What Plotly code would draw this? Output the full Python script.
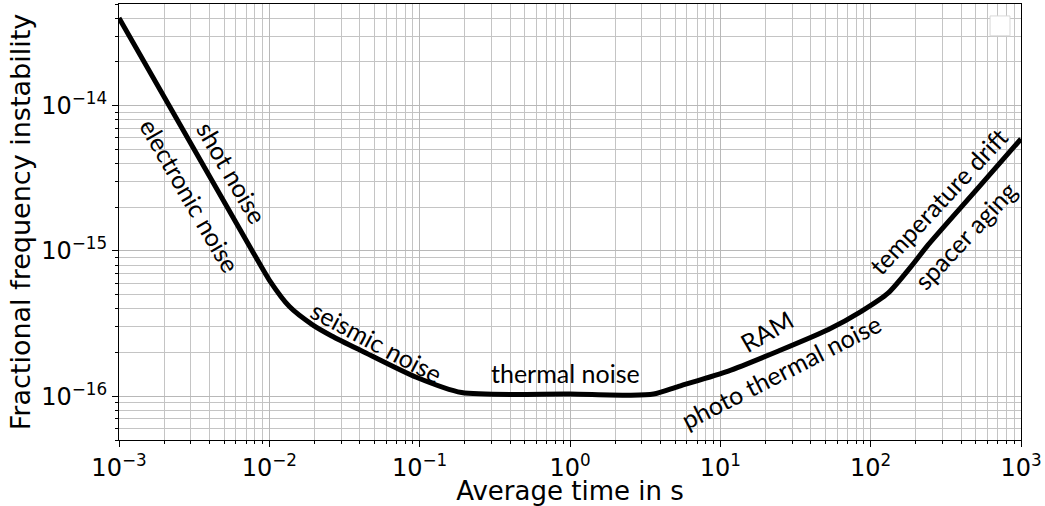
import plotly.graph_objects as go
import math

# Data
tau = [1e-3, 7.7e-3, 1.0e-2, 1.36e-2, 1.94e-2, 2.6e-2, 4.16e-2, 0.095, 0.19, 1.0, 2.5, 3.6,
       5.28, 11.3, 24.4, 52.4, 86.7, 131, 186, 241, 500, 1000]
sigma = [4.0e-14, 1.0e-15, 6.3e-16, 4.14e-16, 3.1e-16, 2.6e-16, 2.04e-16, 1.35e-16, 1.06e-16,
         1.035e-16, 1.015e-16, 1.035e-16, 1.17e-16, 1.49e-16, 2.05e-16, 2.88e-16, 3.84e-16,
         5.14e-16, 7.82e-16, 1.10e-15, 2.6e-15, 5.9e-15]

x_tick_exp = [-3, -2, -1, 0, 1, 2, 3]
y_tick_exp = [-16, -15, -14]

labels = ["shot noise", "electronic noise", "seismic noise", "thermal noise", "RAM",
          "photo thermal noise", "temperature drift", "spacer aging"]
label_tau = [5.62e-3, 2.96e-3, 5.24e-2, 0.927, 20.3, 25.5, 281, 425]
label_sigma = [3.48e-15, 2.42e-15, 2.38e-16, 1.44e-16, 2.79e-16, 1.49e-16, 2.20e-15, 1.29e-15]
label_angle = [60, 60, 28, 0, -30, -27, -47, -47]


def pow_label(e):
    s = str(e).replace("-", "\u2212")
    return "10<sup>" + s + "</sup>"


fig = go.Figure()
fig.add_trace(go.Scatter(x=tau, y=sigma, mode="lines",
                         line=dict(color="black", width=5, shape="spline", smoothing=0.7),
                         showlegend=False))

for t, xs, ys, a in zip(labels, label_tau, label_sigma, label_angle):
    fig.add_annotation(x=math.log10(xs), y=math.log10(ys), text=t, textangle=a,
                       showarrow=False, font=dict(family="Lato", size=25, color="black"))

# empty legend box (as in reference)
fig.add_shape(type="rect", xref="paper", yref="paper", x0=0.9657, x1=0.9878,
              y0=0.927, y1=0.9726, line=dict(color="#d8d8d8", width=1), fillcolor="white")

axis_common = dict(type="log", showline=True, linecolor="black", linewidth=1, mirror=True,
                   ticks="outside", ticklen=6, tickcolor="black",
                   showgrid=True, gridcolor="#b8b8b8", gridwidth=1,
                   tickfont=dict(family="DejaVu Sans", size=24, color="black"),
                   minor=dict(dtick="D1", ticks="outside", ticklen=3, tickcolor="black",
                              showgrid=True, gridcolor="#c4c4c4", gridwidth=1),
                   zeroline=False)

fig.update_xaxes(**axis_common, range=[-3, 3], tickmode="array",
                 tickvals=[10.0 ** e for e in x_tick_exp],
                 ticktext=[pow_label(e) for e in x_tick_exp],
                 title=dict(text="Average time in s", standoff=3,
                            font=dict(family="DejaVu Sans", size=26, color="black")))
fig.update_yaxes(**axis_common, range=[math.log10(5e-17), math.log10(5e-14)], tickmode="array",
                 tickvals=[10.0 ** e for e in y_tick_exp],
                 ticktext=[pow_label(e) for e in y_tick_exp],
                 title=dict(text="Fractional frequency instability", standoff=2,
                            font=dict(family="DejaVu Sans", size=27, color="black")))

fig.update_layout(width=1045, height=506, margin=dict(l=119, r=22, t=3, b=65),
                  plot_bgcolor="white", paper_bgcolor="white", showlegend=False)

fig.write_html("out.html")
